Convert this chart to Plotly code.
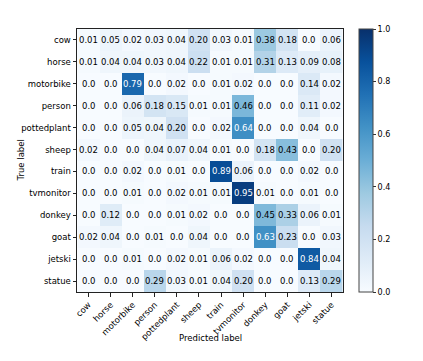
import plotly.graph_objects as go

labels = ["cow", "horse", "motorbike", "person", "pottedplant", "sheep",
          "train", "tvmonitor", "donkey", "goat", "jetski", "statue"]

row_cow = [0.01, 0.05, 0.02, 0.03, 0.04, 0.20, 0.03, 0.01, 0.38, 0.18, 0.0, 0.06]
row_horse = [0.01, 0.04, 0.04, 0.03, 0.04, 0.22, 0.01, 0.01, 0.31, 0.13, 0.09, 0.08]
row_motorbike = [0.0, 0.0, 0.79, 0.0, 0.02, 0.0, 0.01, 0.02, 0.0, 0.0, 0.14, 0.02]
row_person = [0.0, 0.0, 0.06, 0.18, 0.15, 0.01, 0.01, 0.46, 0.0, 0.0, 0.11, 0.02]
row_pottedplant = [0.0, 0.0, 0.05, 0.04, 0.20, 0.0, 0.02, 0.64, 0.0, 0.0, 0.04, 0.0]
row_sheep = [0.02, 0.0, 0.0, 0.04, 0.07, 0.04, 0.01, 0.0, 0.18, 0.43, 0.0, 0.20]
row_train = [0.0, 0.0, 0.02, 0.0, 0.01, 0.0, 0.89, 0.06, 0.0, 0.0, 0.02, 0.0]
row_tvmonitor = [0.0, 0.0, 0.01, 0.0, 0.02, 0.01, 0.01, 0.95, 0.01, 0.0, 0.01, 0.0]
row_donkey = [0.0, 0.12, 0.0, 0.0, 0.01, 0.02, 0.0, 0.0, 0.45, 0.33, 0.06, 0.01]
row_goat = [0.02, 0.04, 0.0, 0.01, 0.0, 0.04, 0.0, 0.0, 0.63, 0.23, 0.0, 0.03]
row_jetski = [0.0, 0.0, 0.01, 0.0, 0.02, 0.01, 0.06, 0.02, 0.0, 0.0, 0.84, 0.04]
row_statue = [0.0, 0.0, 0.0, 0.29, 0.03, 0.01, 0.04, 0.20, 0.0, 0.0, 0.13, 0.29]

matrix = [row_cow, row_horse, row_motorbike, row_person, row_pottedplant, row_sheep,
          row_train, row_tvmonitor, row_donkey, row_goat, row_jetski, row_statue]

colorbar_ticks = [0.0, 0.2, 0.4, 0.6, 0.8, 1.0]

blues = ["#f7fbff", "#deebf7", "#c6dbef", "#9ecae1", "#6baed6",
         "#4292c6", "#2171b5", "#08519c", "#08306b"]
colorscale = [[i / 8, c] for i, c in enumerate(blues)]

FONT = "DejaVu Sans"
fig = go.Figure(go.Heatmap(
    z=matrix, x=labels, y=labels, zmin=0, zmax=1,
    colorscale=colorscale, hoverinfo="skip",
    colorbar=dict(
        x=1.06, xanchor="left", xpad=0, y=0.5, yanchor="middle",
        len=1.0, lenmode="fraction", thickness=14, ypad=0,
        outlinewidth=1, outlinecolor="#444",
        tickvals=colorbar_ticks, ticktext=[f"{t:.1f}" for t in colorbar_ticks],
        ticks="outside", ticklen=3, tickcolor="#333",
        tickfont=dict(family=FONT, size=8, color="black"),
    ),
))

thresh = max(max(r) for r in matrix) / 2
for i, row in enumerate(matrix):
    for j, v in enumerate(row):
        txt = "0.0" if v == 0 else f"{v:.2f}"
        fig.add_annotation(
            x=labels[j], y=labels[i], text=txt, showarrow=False,
            font=dict(family=FONT, size=8.5, color="white" if v > thresh else "black"),
        )

fig.add_annotation(xref="paper", yref="paper", x=0.5, y=-0.2, text="Predicted label",
                   showarrow=False, font=dict(family=FONT, size=8.5, color="black"))
fig.add_annotation(xref="paper", yref="paper", x=-0.237, y=0.5, text="True label",
                   textangle=-90, showarrow=False,
                   font=dict(family=FONT, size=8.5, color="black"))

axis_common = dict(showline=True, linecolor="#222", linewidth=1, mirror=True,
                   ticks="outside", ticklen=3.5, tickcolor="#222", showgrid=False,
                   zeroline=False, automargin=False,
                   tickfont=dict(family=FONT, size=8.5, color="black"))
fig.update_xaxes(tickangle=-45, **axis_common)
fig.update_yaxes(autorange="reversed", **axis_common)

fig.update_layout(
    width=415, height=353,
    margin=dict(l=69, r=80, t=21, b=69, autoexpand=False),
    paper_bgcolor="white", plot_bgcolor="white",
    font=dict(family=FONT),
)

fig.write_html("out.html")
